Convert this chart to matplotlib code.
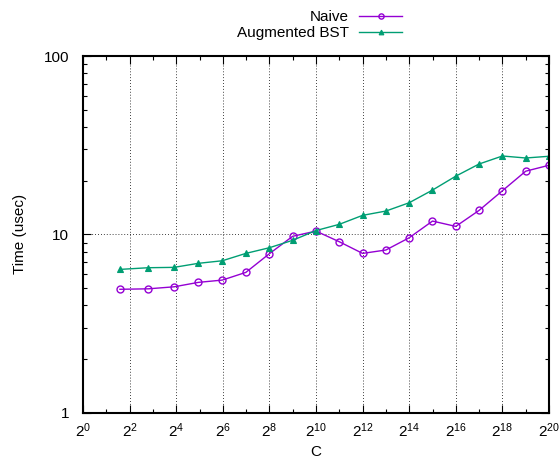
import matplotlib
matplotlib.use("Agg")
import matplotlib.pyplot as plt
import matplotlib.ticker as mticker
import numpy as np

plt.rcParams['font.family'] = ['Liberation Sans', 'DejaVu Sans']
plt.rcParams['mathtext.fontset'] = 'custom'
plt.rcParams['mathtext.rm'] = 'Liberation Sans'
plt.rcParams['mathtext.it'] = 'Liberation Sans'

# data: C = 2^k - 1
k_values = list(range(2, 21))
naive = [4.92, 4.95, 5.08, 5.38, 5.54, 6.12, 7.78, 9.75, 10.43,
         9.09, 7.82, 8.17, 9.57, 11.87, 11.08, 13.63, 17.56, 22.6, 24.4]
augmented = [6.36, 6.50, 6.53, 6.88, 7.11, 7.82, 8.41, 9.26, 10.5,
             11.38, 12.78, 13.51, 15.04, 17.71, 21.2, 24.8, 27.5, 26.8, 27.4]
x_tick_exps = list(range(0, 21, 2))
y_ticks = [1, 10, 100]
y_tick_labels = ["1", "10", "100"]

C = [2 ** k - 1 for k in k_values]

fig = plt.figure(figsize=(5.6, 4.58), dpi=100)
ax = fig.add_axes([83/560, 1-412.7/458, (549-83)/560, (412.7-56)/458])

l1, = ax.plot(C, naive, color='#9400d3', lw=1.0, marker='o', ms=5,
              mfc='none', mew=1.0, label='Naive')
l2, = ax.plot(C, augmented, color='#009e73', lw=1.0, marker='^', ms=4.5,
              mfc='#009e73', mew=0.8, label='Augmented BST')

ax.set_xscale('log', base=2)
ax.set_yscale('log')
ax.set_xlim(1, 2 ** 20)
ax.set_ylim(1, 100)

ax.xaxis.set_major_locator(mticker.FixedLocator([2 ** e for e in x_tick_exps]))
ax.xaxis.set_major_formatter(mticker.FixedFormatter([r'$2^{%d}$' % e for e in x_tick_exps]))
ax.xaxis.set_minor_locator(mticker.FixedLocator([2 ** e for e in range(1, 20, 2)]))
ax.xaxis.set_minor_formatter(mticker.NullFormatter())
ax.yaxis.set_major_locator(mticker.FixedLocator(y_ticks))
ax.yaxis.set_major_formatter(mticker.FixedFormatter(y_tick_labels))
ax.yaxis.set_minor_locator(mticker.LogLocator(base=10, subs=np.arange(2, 10)))
ax.yaxis.set_minor_formatter(mticker.NullFormatter())

ax.tick_params(which='both', direction='in', top=True, right=True, labelsize=11,
               color='black', width=0.8)
ax.tick_params(which='major', length=6)
ax.tick_params(which='minor', length=3)
ax.tick_params(axis='y', which='major', pad=10)
ax.tick_params(axis='x', which='major', pad=6)

ax.grid(which='major', linestyle=(0, (1, 2.5)), color='black', lw=0.6)
for s in ax.spines.values():
    s.set_linewidth(1.5)

ax.set_xlabel('C', fontsize=11, labelpad=4)
ax.set_ylabel('Time (usec)', fontsize=11, labelpad=12)

leg = fig.legend(handles=[l1, l2], loc='upper right',
                 bbox_to_anchor=(402/560, 1 - 10/458), frameon=False,
                 markerfirst=False, fontsize=11, handlelength=2.8,
                 handletextpad=0.7, labelspacing=0.15, numpoints=1,
                 markerscale=0.75, borderpad=0.0, borderaxespad=0.0)
try:
    for col in leg._legend_box._children[1]._children:
        col.align = 'right'
except Exception:
    pass

fig.savefig('out.png', dpi=100)
